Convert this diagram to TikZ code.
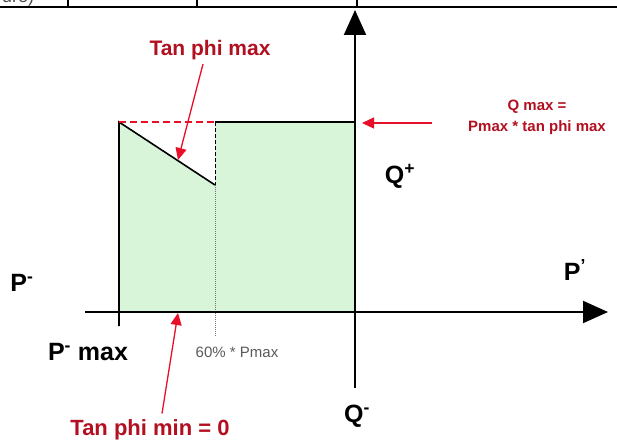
\documentclass[tikz,border=0pt]{standalone}
\usepackage{fontspec}
\setmainfont{Liberation Sans}
\usetikzlibrary{arrows.meta}
\definecolor{zonegreen}{RGB}{216,245,218}
\definecolor{lblred}{RGB}{178,16,32}
\definecolor{arrred}{RGB}{232,16,40}
\definecolor{lblgray}{RGB}{90,90,90}
\tikzset{
  axis/.style={line width=2pt,-{Triangle[length=25pt,width=22pt]}},
  edge/.style={line width=1.6pt},
  redarrow/.style={draw=arrred,line width=1.3pt,-{Triangle[length=12pt,width=11pt]}},
  redlbl/.style={text=lblred,font=\bfseries\fontsize{21}{25}\selectfont,inner sep=0pt},
  smallred/.style={text=lblred,font=\bfseries\fontsize{15}{21}\selectfont,align=center,inner sep=0pt},
  axlbl/.style={text=black,font=\bfseries\fontsize{25}{28}\selectfont,inner sep=0pt},
}
\begin{document}
\begin{tikzpicture}[x=1pt,y=-1pt]
\useasboundingbox (0,0) rectangle (617,441);
% table remnant at top
\begin{scope}
\clip (0,0) rectangle (617,441);
\draw[line width=2.2pt] (0,7) -- (617,7);
\draw[line width=1.6pt] (68,0) -- (68,7) (197,0) -- (197,7) (357,0) -- (357,7);
\node[anchor=base west,inner sep=0pt,font=\fontsize{18}{20}\selectfont,text=black!70] (frag) at (2,3) {ure)};
\end{scope}
% coordinates
\coordinate (O) at (355,312);
\coordinate (ytop) at (355,10);
\coordinate (ybot) at (355,388);
\coordinate (xleft) at (85,312);
\coordinate (xright) at (608,312);
\coordinate (A) at (119,122);
\coordinate (B) at (215,185);
\coordinate (C) at (215,122);
\coordinate (D) at (355,122);
\coordinate (E) at (119,312);
\coordinate (Et) at (119,326);
\coordinate (Fb) at (215,337);
% green zone
\fill[zonegreen] (A) -- (B) -- (C) -- (D) -- (O) -- (E) -- cycle;
% boundary
\draw[edge] (Et) -- (A) -- (B);
\draw[edge] (C) -- (D);
\draw[draw=arrred,line width=1.6pt,dash pattern=on 7pt off 4pt] (A) -- (C);
\draw[line width=1pt,dash pattern=on 4pt off 2pt] (C) -- (B);
\draw[line width=0.5pt,draw=black!55,dash pattern=on 1pt off 1pt] (B) -- (Fb);
% axes
\draw[axis] (ybot) -- (ytop);
\draw[axis] (xleft) -- (xright);
% labels
\node[redlbl] (tanmax) at (210,50) {Tan phi max};
\node[smallred] (qmax) at (537,117) {Q max =\\Pmax * tan phi max};
\node[redlbl,font=\bfseries\fontsize{22}{25}\selectfont] (tanmin) at (150,430) {Tan phi min = 0};
\node[axlbl] (qplus) at (400,176) {Q\textsuperscript{+}};
\node[axlbl] (qminus) at (357,416) {Q\textsuperscript{-}};
\node[axlbl] (pminus) at (22,283) {P\textsuperscript{-}};
\node[axlbl] (pplus) at (575,270) {P\textsuperscript{'}};
\node[axlbl] (pmax) at (88,352) {P\textsuperscript{-} max};
\node[text=lblgray,font=\fontsize{15}{17}\selectfont,inner sep=0pt] (sixty) at (237,352) {60\% * Pmax};
% red arrows
\coordinate (tmaxtip) at (178,160);
\coordinate (tmintip) at (178,313);
\coordinate (qtip) at (362,123);
\coordinate (qtail) at (432,123);
\draw[redarrow] (tanmax.south) ++(-7,4) -- (tmaxtip);
\draw[redarrow] (tanmin.north) ++(12,-6) -- (tmintip);
\draw[redarrow] (qtail) -- (qtip);
\end{tikzpicture}
\end{document}
